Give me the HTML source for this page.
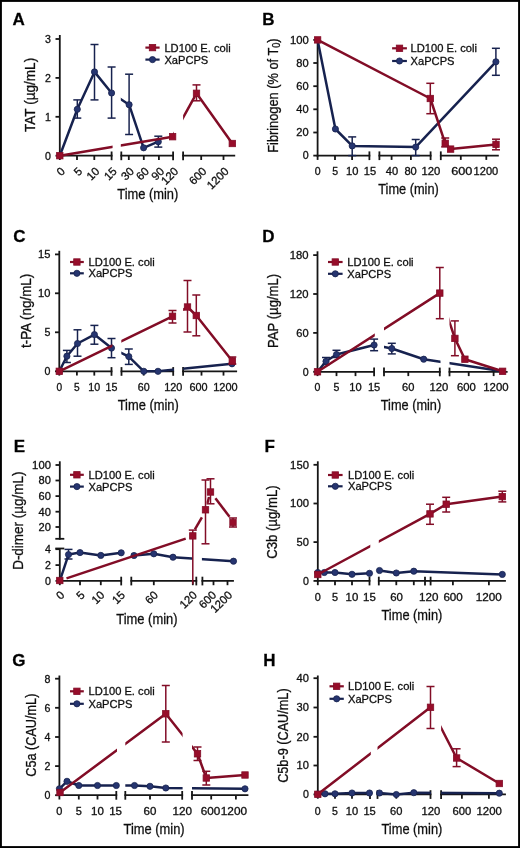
<!DOCTYPE html><html><head><meta charset="utf-8"><style>html,body{margin:0;padding:0;background:#fff;}svg text{font-family:"Liberation Sans", sans-serif;stroke:#111;stroke-width:0.3px;}</style></head><body><svg width="520" height="848" viewBox="0 0 520 848" style="display:block"><defs><clipPath id="c1"><rect x="0" y="0" width="112.6" height="848"/><rect x="120.8" y="0" width="53.2" height="848"/><rect x="183.1" y="0" width="116.9" height="848"/></clipPath><clipPath id="c2"><rect x="0" y="0" width="112.4" height="848"/><rect x="121.3" y="0" width="52.7" height="848"/><rect x="183.1" y="0" width="116.9" height="848"/></clipPath><clipPath id="c3"><rect x="0" y="0" width="374.8" height="848"/><rect x="384" y="0" width="56.5" height="848"/><rect x="449.5" y="0" width="150.5" height="848"/></clipPath><clipPath id="c4"><rect x="0" y="0" width="121.6" height="848"/><rect x="131.0" y="0" width="61.69999999999999" height="848"/><rect x="201.9" y="0" width="98.1" height="848"/></clipPath><clipPath id="c5"><rect x="0" y="0" width="370.3" height="848"/><rect x="378.8" y="0" width="221.2" height="848"/></clipPath><clipPath id="c6"><rect x="0" y="0" width="117" height="848"/><rect x="125.3" y="0" width="57.3" height="848"/><rect x="192" y="0" width="108" height="848"/></clipPath><clipPath id="c7"><rect x="0" y="0" width="370.8" height="848"/><rect x="377.5" y="0" width="53.5" height="848"/><rect x="441.1" y="0" width="158.89999999999998" height="848"/></clipPath><filter id="soft" x="0" y="0" width="1" height="1"><feGaussianBlur stdDeviation="0.35"/></filter></defs><g filter="url(#soft)"><rect x="0" y="0" width="520" height="848" fill="#fff"/><text x="12.6" y="25" font-size="17" text-anchor="start" font-weight="bold" fill="#000">A</text><line x1="59.8" y1="35" x2="59.8" y2="156.6" stroke="#151515" stroke-width="1.8" stroke-linecap="butt"/><line x1="55.5" y1="155.7" x2="59.8" y2="155.7" stroke="#151515" stroke-width="1.8" stroke-linecap="butt"/><text x="50.9" y="159.5" font-size="10.6" text-anchor="end" font-weight="normal" fill="#111" textLength="5.92" lengthAdjust="spacingAndGlyphs">0</text><line x1="55.5" y1="116.8" x2="59.8" y2="116.8" stroke="#151515" stroke-width="1.8" stroke-linecap="butt"/><text x="50.9" y="120.6" font-size="10.6" text-anchor="end" font-weight="normal" fill="#111" textLength="5.92" lengthAdjust="spacingAndGlyphs">1</text><line x1="55.5" y1="77.9" x2="59.8" y2="77.9" stroke="#151515" stroke-width="1.8" stroke-linecap="butt"/><text x="50.9" y="81.7" font-size="10.6" text-anchor="end" font-weight="normal" fill="#111" textLength="5.92" lengthAdjust="spacingAndGlyphs">2</text><line x1="55.5" y1="39.0" x2="59.8" y2="39.0" stroke="#151515" stroke-width="1.8" stroke-linecap="butt"/><text x="50.9" y="42.8" font-size="10.6" text-anchor="end" font-weight="normal" fill="#111" textLength="5.92" lengthAdjust="spacingAndGlyphs">3</text><line x1="58.9" y1="155.7" x2="112.5" y2="155.7" stroke="#151515" stroke-width="1.8" stroke-linecap="butt"/><line x1="111.6" y1="151.5" x2="111.6" y2="160.2" stroke="#151515" stroke-width="1.8" stroke-linecap="butt"/><line x1="120.39999999999999" y1="155.7" x2="174.0" y2="155.7" stroke="#151515" stroke-width="1.8" stroke-linecap="butt"/><line x1="121.3" y1="151.5" x2="121.3" y2="160.2" stroke="#151515" stroke-width="1.8" stroke-linecap="butt"/><line x1="173.1" y1="151.5" x2="173.1" y2="160.2" stroke="#151515" stroke-width="1.8" stroke-linecap="butt"/><line x1="182.2" y1="155.7" x2="235.20000000000002" y2="155.7" stroke="#151515" stroke-width="1.8" stroke-linecap="butt"/><line x1="183.1" y1="151.5" x2="183.1" y2="160.2" stroke="#151515" stroke-width="1.8" stroke-linecap="butt"/><line x1="77.0" y1="155.7" x2="77.0" y2="160.0" stroke="#151515" stroke-width="1.8" stroke-linecap="butt"/><line x1="94.3" y1="155.7" x2="94.3" y2="160.0" stroke="#151515" stroke-width="1.8" stroke-linecap="butt"/><line x1="128.8" y1="155.7" x2="128.8" y2="160.0" stroke="#151515" stroke-width="1.8" stroke-linecap="butt"/><line x1="143.8" y1="155.7" x2="143.8" y2="160.0" stroke="#151515" stroke-width="1.8" stroke-linecap="butt"/><line x1="158.9" y1="155.7" x2="158.9" y2="160.0" stroke="#151515" stroke-width="1.8" stroke-linecap="butt"/><line x1="201.2" y1="155.7" x2="201.2" y2="160.0" stroke="#151515" stroke-width="1.8" stroke-linecap="butt"/><line x1="223.5" y1="155.7" x2="223.5" y2="160.0" stroke="#151515" stroke-width="1.8" stroke-linecap="butt"/><line x1="59.8" y1="155.7" x2="59.8" y2="160.0" stroke="#151515" stroke-width="1.8" stroke-linecap="butt"/><text x="65.8" y="172.0" font-size="11.4" text-anchor="end" font-weight="normal" fill="#111" transform="rotate(-45 65.8 172.0)">0</text><text x="83.0" y="172.0" font-size="11.4" text-anchor="end" font-weight="normal" fill="#111" transform="rotate(-45 83.0 172.0)">5</text><text x="100.3" y="172.0" font-size="11.4" text-anchor="end" font-weight="normal" fill="#111" transform="rotate(-45 100.3 172.0)">10</text><text x="117.6" y="172.0" font-size="11.4" text-anchor="end" font-weight="normal" fill="#111" transform="rotate(-45 117.6 172.0)">15</text><text x="134.8" y="172.0" font-size="11.4" text-anchor="end" font-weight="normal" fill="#111" transform="rotate(-45 134.8 172.0)">30</text><text x="149.8" y="172.0" font-size="11.4" text-anchor="end" font-weight="normal" fill="#111" transform="rotate(-45 149.8 172.0)">60</text><text x="164.9" y="172.0" font-size="11.4" text-anchor="end" font-weight="normal" fill="#111" transform="rotate(-45 164.9 172.0)">90</text><text x="179.1" y="172.0" font-size="11.4" text-anchor="end" font-weight="normal" fill="#111" transform="rotate(-45 179.1 172.0)">120</text><text x="207.2" y="172.0" font-size="11.4" text-anchor="end" font-weight="normal" fill="#111" transform="rotate(-45 207.2 172.0)">600</text><text x="229.5" y="172.0" font-size="11.4" text-anchor="end" font-weight="normal" fill="#111" transform="rotate(-45 229.5 172.0)">1200</text><text x="35.2" y="94.9" font-size="14.5" text-anchor="middle" font-weight="normal" fill="#111" textLength="74.1" lengthAdjust="spacingAndGlyphs" transform="rotate(-90 35.2 94.9)">TAT (µg/mL)</text><text x="117.3" y="199.4" font-size="14.2" text-anchor="start" font-weight="normal" fill="#111" textLength="61.0" lengthAdjust="spacingAndGlyphs">Time (min)</text><line x1="145.4" y1="47.6" x2="159.6" y2="47.6" stroke="#820d27" stroke-width="2.2" stroke-linecap="butt"/><text x="164.4" y="51.6" font-size="11.3" text-anchor="start" font-weight="normal" fill="#111" textLength="66.3" lengthAdjust="spacingAndGlyphs">LD100 E. coli</text><line x1="145.4" y1="59.6" x2="159.6" y2="59.6" stroke="#19234f" stroke-width="2.2" stroke-linecap="butt"/><text x="164.4" y="63.6" font-size="11.3" text-anchor="start" font-weight="normal" fill="#111" textLength="43.9" lengthAdjust="spacingAndGlyphs">XaPCPS</text><text x="262.3" y="25" font-size="17" text-anchor="start" font-weight="bold" fill="#000">B</text><line x1="317.6" y1="39.9" x2="317.6" y2="156.5" stroke="#151515" stroke-width="1.8" stroke-linecap="butt"/><line x1="313.3" y1="155.6" x2="317.6" y2="155.6" stroke="#151515" stroke-width="1.8" stroke-linecap="butt"/><text x="308.70000000000005" y="159.4" font-size="10.6" text-anchor="end" font-weight="normal" fill="#111" textLength="5.92" lengthAdjust="spacingAndGlyphs">0</text><line x1="313.3" y1="132.5" x2="317.6" y2="132.5" stroke="#151515" stroke-width="1.8" stroke-linecap="butt"/><text x="308.70000000000005" y="136.3" font-size="10.6" text-anchor="end" font-weight="normal" fill="#111" textLength="12.35" lengthAdjust="spacingAndGlyphs">20</text><line x1="313.3" y1="109.3" x2="317.6" y2="109.3" stroke="#151515" stroke-width="1.8" stroke-linecap="butt"/><text x="308.70000000000005" y="113.1" font-size="10.6" text-anchor="end" font-weight="normal" fill="#111" textLength="12.35" lengthAdjust="spacingAndGlyphs">40</text><line x1="313.3" y1="86.2" x2="317.6" y2="86.2" stroke="#151515" stroke-width="1.8" stroke-linecap="butt"/><text x="308.70000000000005" y="90.0" font-size="10.6" text-anchor="end" font-weight="normal" fill="#111" textLength="12.35" lengthAdjust="spacingAndGlyphs">60</text><line x1="313.3" y1="63.0" x2="317.6" y2="63.0" stroke="#151515" stroke-width="1.8" stroke-linecap="butt"/><text x="308.70000000000005" y="66.8" font-size="10.6" text-anchor="end" font-weight="normal" fill="#111" textLength="12.35" lengthAdjust="spacingAndGlyphs">80</text><line x1="313.3" y1="39.9" x2="317.6" y2="39.9" stroke="#151515" stroke-width="1.8" stroke-linecap="butt"/><text x="308.70000000000005" y="43.699999999999996" font-size="10.6" text-anchor="end" font-weight="normal" fill="#111" textLength="18.77" lengthAdjust="spacingAndGlyphs">100</text><line x1="316.70000000000005" y1="155.6" x2="370.29999999999995" y2="155.6" stroke="#151515" stroke-width="1.8" stroke-linecap="butt"/><line x1="369.4" y1="151.4" x2="369.4" y2="160.1" stroke="#151515" stroke-width="1.8" stroke-linecap="butt"/><line x1="378.5" y1="155.6" x2="431.5" y2="155.6" stroke="#151515" stroke-width="1.8" stroke-linecap="butt"/><line x1="379.4" y1="151.4" x2="379.4" y2="160.1" stroke="#151515" stroke-width="1.8" stroke-linecap="butt"/><line x1="430.6" y1="151.4" x2="430.6" y2="160.1" stroke="#151515" stroke-width="1.8" stroke-linecap="butt"/><line x1="439.90000000000003" y1="155.6" x2="498.79999999999995" y2="155.6" stroke="#151515" stroke-width="1.8" stroke-linecap="butt"/><line x1="440.8" y1="151.4" x2="440.8" y2="160.1" stroke="#151515" stroke-width="1.8" stroke-linecap="butt"/><line x1="317.6" y1="155.6" x2="317.6" y2="159.9" stroke="#151515" stroke-width="1.8" stroke-linecap="butt"/><line x1="335.0" y1="155.6" x2="335.0" y2="159.9" stroke="#151515" stroke-width="1.8" stroke-linecap="butt"/><line x1="352.1" y1="155.6" x2="352.1" y2="159.9" stroke="#151515" stroke-width="1.8" stroke-linecap="butt"/><line x1="391.6" y1="155.6" x2="391.6" y2="159.9" stroke="#151515" stroke-width="1.8" stroke-linecap="butt"/><line x1="410.9" y1="155.6" x2="410.9" y2="159.9" stroke="#151515" stroke-width="1.8" stroke-linecap="butt"/><line x1="460.8" y1="155.6" x2="460.8" y2="159.9" stroke="#151515" stroke-width="1.8" stroke-linecap="butt"/><line x1="486.3" y1="155.6" x2="486.3" y2="159.9" stroke="#151515" stroke-width="1.8" stroke-linecap="butt"/><text x="317.7" y="174.6" font-size="10.6" text-anchor="middle" font-weight="normal" fill="#111" textLength="5.88" lengthAdjust="spacingAndGlyphs">0</text><text x="335.25" y="174.6" font-size="10.6" text-anchor="middle" font-weight="normal" fill="#111" textLength="5.88" lengthAdjust="spacingAndGlyphs">5</text><text x="352.2" y="174.6" font-size="10.6" text-anchor="middle" font-weight="normal" fill="#111" textLength="12.37" lengthAdjust="spacingAndGlyphs">10</text><text x="369.9" y="174.6" font-size="10.6" text-anchor="middle" font-weight="normal" fill="#111" textLength="12.37" lengthAdjust="spacingAndGlyphs">15</text><text x="391.9" y="174.6" font-size="10.6" text-anchor="middle" font-weight="normal" fill="#111" textLength="12.37" lengthAdjust="spacingAndGlyphs">40</text><text x="410.6" y="174.6" font-size="10.6" text-anchor="middle" font-weight="normal" fill="#111" textLength="12.37" lengthAdjust="spacingAndGlyphs">80</text><text x="431" y="174.6" font-size="10.6" text-anchor="middle" font-weight="normal" fill="#111" textLength="18.85" lengthAdjust="spacingAndGlyphs">120</text><text x="461.8" y="174.6" font-size="10.6" text-anchor="middle" font-weight="normal" fill="#111" textLength="21.2" lengthAdjust="spacingAndGlyphs">600</text><text x="485.9" y="174.6" font-size="10.6" text-anchor="middle" font-weight="normal" fill="#111" textLength="24.6" lengthAdjust="spacingAndGlyphs">1200</text><text x="277.9" y="95.55" font-size="14.5" text-anchor="middle" font-weight="normal" fill="#111" textLength="114.4" lengthAdjust="spacingAndGlyphs" transform="rotate(-90 277.9 95.55)">Fibrinogen (% of T<tspan font-size="10.5" dy="2.5">0</tspan><tspan dy="-2.5">)</tspan></text><text x="378.3" y="194.2" font-size="14.2" text-anchor="start" font-weight="normal" fill="#111" textLength="60.5" lengthAdjust="spacingAndGlyphs">Time (min)</text><line x1="392.1" y1="48.3" x2="406.90000000000003" y2="48.3" stroke="#820d27" stroke-width="2.2" stroke-linecap="butt"/><text x="410.6" y="52.3" font-size="11.3" text-anchor="start" font-weight="normal" fill="#111" textLength="66.3" lengthAdjust="spacingAndGlyphs">LD100 E. coli</text><line x1="392.1" y1="61" x2="406.90000000000003" y2="61" stroke="#19234f" stroke-width="2.2" stroke-linecap="butt"/><text x="410.6" y="65" font-size="11.3" text-anchor="start" font-weight="normal" fill="#111" textLength="43.9" lengthAdjust="spacingAndGlyphs">XaPCPS</text><text x="13.2" y="241.8" font-size="17" text-anchor="start" font-weight="bold" fill="#000">C</text><line x1="59.3" y1="250.8" x2="59.3" y2="372.2" stroke="#151515" stroke-width="1.8" stroke-linecap="butt"/><line x1="55.0" y1="371.3" x2="59.3" y2="371.3" stroke="#151515" stroke-width="1.8" stroke-linecap="butt"/><text x="50.4" y="375.1" font-size="10.6" text-anchor="end" font-weight="normal" fill="#111" textLength="5.92" lengthAdjust="spacingAndGlyphs">0</text><line x1="55.0" y1="332.3" x2="59.3" y2="332.3" stroke="#151515" stroke-width="1.8" stroke-linecap="butt"/><text x="50.4" y="336.1" font-size="10.6" text-anchor="end" font-weight="normal" fill="#111" textLength="5.92" lengthAdjust="spacingAndGlyphs">5</text><line x1="55.0" y1="293.3" x2="59.3" y2="293.3" stroke="#151515" stroke-width="1.8" stroke-linecap="butt"/><text x="50.4" y="297.1" font-size="10.6" text-anchor="end" font-weight="normal" fill="#111" textLength="12.35" lengthAdjust="spacingAndGlyphs">10</text><line x1="55.0" y1="254.4" x2="59.3" y2="254.4" stroke="#151515" stroke-width="1.8" stroke-linecap="butt"/><text x="50.4" y="258.2" font-size="10.6" text-anchor="end" font-weight="normal" fill="#111" textLength="12.35" lengthAdjust="spacingAndGlyphs">15</text><line x1="58.4" y1="371.3" x2="112.4" y2="371.3" stroke="#151515" stroke-width="1.8" stroke-linecap="butt"/><line x1="111.5" y1="367.1" x2="111.5" y2="375.8" stroke="#151515" stroke-width="1.8" stroke-linecap="butt"/><line x1="120.6" y1="371.3" x2="174.1" y2="371.3" stroke="#151515" stroke-width="1.8" stroke-linecap="butt"/><line x1="121.5" y1="367.1" x2="121.5" y2="375.8" stroke="#151515" stroke-width="1.8" stroke-linecap="butt"/><line x1="173.2" y1="367.1" x2="173.2" y2="375.8" stroke="#151515" stroke-width="1.8" stroke-linecap="butt"/><line x1="182.2" y1="371.3" x2="237.1" y2="371.3" stroke="#151515" stroke-width="1.8" stroke-linecap="butt"/><line x1="183.1" y1="367.1" x2="183.1" y2="375.8" stroke="#151515" stroke-width="1.8" stroke-linecap="butt"/><line x1="59.3" y1="371.3" x2="59.3" y2="375.6" stroke="#151515" stroke-width="1.8" stroke-linecap="butt"/><line x1="76.9" y1="371.3" x2="76.9" y2="375.6" stroke="#151515" stroke-width="1.8" stroke-linecap="butt"/><line x1="94.3" y1="371.3" x2="94.3" y2="375.6" stroke="#151515" stroke-width="1.8" stroke-linecap="butt"/><line x1="143.7" y1="371.3" x2="143.7" y2="375.6" stroke="#151515" stroke-width="1.8" stroke-linecap="butt"/><line x1="201.5" y1="371.3" x2="201.5" y2="375.6" stroke="#151515" stroke-width="1.8" stroke-linecap="butt"/><line x1="223.5" y1="371.3" x2="223.5" y2="375.6" stroke="#151515" stroke-width="1.8" stroke-linecap="butt"/><text x="59.3" y="391.1" font-size="10.6" text-anchor="middle" font-weight="normal" fill="#111" textLength="5.65" lengthAdjust="spacingAndGlyphs">0</text><text x="76.9" y="391.1" font-size="10.6" text-anchor="middle" font-weight="normal" fill="#111" textLength="5.65" lengthAdjust="spacingAndGlyphs">5</text><text x="94.3" y="391.1" font-size="10.6" text-anchor="middle" font-weight="normal" fill="#111" textLength="11.89" lengthAdjust="spacingAndGlyphs">10</text><text x="111.5" y="391.1" font-size="10.6" text-anchor="middle" font-weight="normal" fill="#111" textLength="11.89" lengthAdjust="spacingAndGlyphs">15</text><text x="143.7" y="391.1" font-size="10.6" text-anchor="middle" font-weight="normal" fill="#111" textLength="11.89" lengthAdjust="spacingAndGlyphs">60</text><text x="173.3" y="391.1" font-size="10.6" text-anchor="middle" font-weight="normal" fill="#111" textLength="18.14" lengthAdjust="spacingAndGlyphs">120</text><text x="198.5" y="391.1" font-size="10.6" text-anchor="middle" font-weight="normal" fill="#111" textLength="18.14" lengthAdjust="spacingAndGlyphs">600</text><text x="225.4" y="391.1" font-size="10.6" text-anchor="middle" font-weight="normal" fill="#111" textLength="24.39" lengthAdjust="spacingAndGlyphs">1200</text><text x="30.7" y="310.9" font-size="14.5" text-anchor="middle" font-weight="normal" fill="#111" textLength="74.3" lengthAdjust="spacingAndGlyphs" transform="rotate(-90 30.7 310.9)">t-PA (ng/mL)</text><text x="117.7" y="409.8" font-size="14.2" text-anchor="start" font-weight="normal" fill="#111" textLength="61.1" lengthAdjust="spacingAndGlyphs">Time (min)</text><line x1="70" y1="262" x2="83.8" y2="262" stroke="#820d27" stroke-width="2.2" stroke-linecap="butt"/><text x="88.5" y="266" font-size="11.3" text-anchor="start" font-weight="normal" fill="#111" textLength="66.3" lengthAdjust="spacingAndGlyphs">LD100 E. coli</text><line x1="70" y1="273.3" x2="83.8" y2="273.3" stroke="#19234f" stroke-width="2.2" stroke-linecap="butt"/><text x="88.5" y="277.3" font-size="11.3" text-anchor="start" font-weight="normal" fill="#111" textLength="43.9" lengthAdjust="spacingAndGlyphs">XaPCPS</text><text x="262.2" y="241.5" font-size="17" text-anchor="start" font-weight="bold" fill="#000">D</text><line x1="317.5" y1="251.3" x2="317.5" y2="372.7" stroke="#151515" stroke-width="1.8" stroke-linecap="butt"/><line x1="313.2" y1="371.8" x2="317.5" y2="371.8" stroke="#151515" stroke-width="1.8" stroke-linecap="butt"/><text x="308.6" y="375.6" font-size="10.6" text-anchor="end" font-weight="normal" fill="#111" textLength="5.92" lengthAdjust="spacingAndGlyphs">0</text><line x1="313.2" y1="332.9" x2="317.5" y2="332.9" stroke="#151515" stroke-width="1.8" stroke-linecap="butt"/><text x="308.6" y="336.7" font-size="10.6" text-anchor="end" font-weight="normal" fill="#111" textLength="12.35" lengthAdjust="spacingAndGlyphs">60</text><line x1="313.2" y1="294" x2="317.5" y2="294" stroke="#151515" stroke-width="1.8" stroke-linecap="butt"/><text x="308.6" y="297.8" font-size="10.6" text-anchor="end" font-weight="normal" fill="#111" textLength="18.77" lengthAdjust="spacingAndGlyphs">120</text><line x1="313.2" y1="255.1" x2="317.5" y2="255.1" stroke="#151515" stroke-width="1.8" stroke-linecap="butt"/><text x="308.6" y="258.9" font-size="10.6" text-anchor="end" font-weight="normal" fill="#111" textLength="18.77" lengthAdjust="spacingAndGlyphs">180</text><line x1="316.6" y1="371.8" x2="375.0" y2="371.8" stroke="#151515" stroke-width="1.8" stroke-linecap="butt"/><line x1="374.1" y1="367.6" x2="374.1" y2="376.3" stroke="#151515" stroke-width="1.8" stroke-linecap="butt"/><line x1="383.1" y1="371.8" x2="440.7" y2="371.8" stroke="#151515" stroke-width="1.8" stroke-linecap="butt"/><line x1="384" y1="367.6" x2="384" y2="376.3" stroke="#151515" stroke-width="1.8" stroke-linecap="butt"/><line x1="439.8" y1="367.6" x2="439.8" y2="376.3" stroke="#151515" stroke-width="1.8" stroke-linecap="butt"/><line x1="448.6" y1="371.8" x2="507.59999999999997" y2="371.8" stroke="#151515" stroke-width="1.8" stroke-linecap="butt"/><line x1="449.5" y1="367.6" x2="449.5" y2="376.3" stroke="#151515" stroke-width="1.8" stroke-linecap="butt"/><line x1="317.5" y1="371.8" x2="317.5" y2="376.1" stroke="#151515" stroke-width="1.8" stroke-linecap="butt"/><line x1="336.5" y1="371.8" x2="336.5" y2="376.1" stroke="#151515" stroke-width="1.8" stroke-linecap="butt"/><line x1="355.5" y1="371.8" x2="355.5" y2="376.1" stroke="#151515" stroke-width="1.8" stroke-linecap="butt"/><line x1="408.3" y1="371.8" x2="408.3" y2="376.1" stroke="#151515" stroke-width="1.8" stroke-linecap="butt"/><line x1="468.7" y1="371.8" x2="468.7" y2="376.1" stroke="#151515" stroke-width="1.8" stroke-linecap="butt"/><line x1="493.6" y1="371.8" x2="493.6" y2="376.1" stroke="#151515" stroke-width="1.8" stroke-linecap="butt"/><text x="317.5" y="391.3" font-size="10.6" text-anchor="middle" font-weight="normal" fill="#111" textLength="5.88" lengthAdjust="spacingAndGlyphs">0</text><text x="336.5" y="391.3" font-size="10.6" text-anchor="middle" font-weight="normal" fill="#111" textLength="5.88" lengthAdjust="spacingAndGlyphs">5</text><text x="355.5" y="391.3" font-size="10.6" text-anchor="middle" font-weight="normal" fill="#111" textLength="12.37" lengthAdjust="spacingAndGlyphs">10</text><text x="374.1" y="391.3" font-size="10.6" text-anchor="middle" font-weight="normal" fill="#111" textLength="12.37" lengthAdjust="spacingAndGlyphs">15</text><text x="408.3" y="391.3" font-size="10.6" text-anchor="middle" font-weight="normal" fill="#111" textLength="12.37" lengthAdjust="spacingAndGlyphs">60</text><text x="438.8" y="391.3" font-size="10.6" text-anchor="middle" font-weight="normal" fill="#111" textLength="18.85" lengthAdjust="spacingAndGlyphs">120</text><text x="466.3" y="391.3" font-size="10.6" text-anchor="middle" font-weight="normal" fill="#111" textLength="18.85" lengthAdjust="spacingAndGlyphs">600</text><text x="495.9" y="391.3" font-size="10.6" text-anchor="middle" font-weight="normal" fill="#111" textLength="25.33" lengthAdjust="spacingAndGlyphs">1200</text><text x="278.5" y="310.9" font-size="14.5" text-anchor="middle" font-weight="normal" fill="#111" textLength="74.3" lengthAdjust="spacingAndGlyphs" transform="rotate(-90 278.5 310.9)">PAP (µg/mL)</text><text x="380.8" y="410.2" font-size="14.2" text-anchor="start" font-weight="normal" fill="#111" textLength="60.4" lengthAdjust="spacingAndGlyphs">Time (min)</text><line x1="328" y1="262" x2="342.6" y2="262" stroke="#820d27" stroke-width="2.2" stroke-linecap="butt"/><text x="347.3" y="266" font-size="11.3" text-anchor="start" font-weight="normal" fill="#111" textLength="66.3" lengthAdjust="spacingAndGlyphs">LD100 E. coli</text><line x1="328" y1="273.8" x2="342.6" y2="273.8" stroke="#19234f" stroke-width="2.2" stroke-linecap="butt"/><text x="347.3" y="277.8" font-size="11.3" text-anchor="start" font-weight="normal" fill="#111" textLength="43.9" lengthAdjust="spacingAndGlyphs">XaPCPS</text><text x="13.8" y="451.5" font-size="17" text-anchor="start" font-weight="bold" fill="#000">E</text><line x1="59.8" y1="461.3" x2="59.8" y2="539.6999999999999" stroke="#151515" stroke-width="1.8" stroke-linecap="butt"/><line x1="55.3" y1="538.8" x2="64.3" y2="538.8" stroke="#151515" stroke-width="1.8" stroke-linecap="butt"/><line x1="59.8" y1="548.5" x2="59.8" y2="581.8" stroke="#151515" stroke-width="1.8" stroke-linecap="butt"/><line x1="55.3" y1="548.5" x2="64.3" y2="548.5" stroke="#151515" stroke-width="1.8" stroke-linecap="butt"/><line x1="55.5" y1="465" x2="59.8" y2="465" stroke="#151515" stroke-width="1.8" stroke-linecap="butt"/><text x="50.9" y="468.8" font-size="10.6" text-anchor="end" font-weight="normal" fill="#111" textLength="18.77" lengthAdjust="spacingAndGlyphs">100</text><line x1="55.5" y1="480.5" x2="59.8" y2="480.5" stroke="#151515" stroke-width="1.8" stroke-linecap="butt"/><text x="50.9" y="484.3" font-size="10.6" text-anchor="end" font-weight="normal" fill="#111" textLength="12.35" lengthAdjust="spacingAndGlyphs">80</text><line x1="55.5" y1="496.1" x2="59.8" y2="496.1" stroke="#151515" stroke-width="1.8" stroke-linecap="butt"/><text x="50.9" y="499.90000000000003" font-size="10.6" text-anchor="end" font-weight="normal" fill="#111" textLength="12.35" lengthAdjust="spacingAndGlyphs">60</text><line x1="55.5" y1="511.7" x2="59.8" y2="511.7" stroke="#151515" stroke-width="1.8" stroke-linecap="butt"/><text x="50.9" y="515.5" font-size="10.6" text-anchor="end" font-weight="normal" fill="#111" textLength="12.35" lengthAdjust="spacingAndGlyphs">40</text><line x1="55.5" y1="527.0" x2="59.8" y2="527.0" stroke="#151515" stroke-width="1.8" stroke-linecap="butt"/><text x="50.9" y="530.8" font-size="10.6" text-anchor="end" font-weight="normal" fill="#111" textLength="12.35" lengthAdjust="spacingAndGlyphs">20</text><line x1="55.5" y1="549.2" x2="59.8" y2="549.2" stroke="#151515" stroke-width="1.8" stroke-linecap="butt"/><text x="50.9" y="553.0" font-size="10.6" text-anchor="end" font-weight="normal" fill="#111" textLength="5.92" lengthAdjust="spacingAndGlyphs">4</text><line x1="55.5" y1="565.1" x2="59.8" y2="565.1" stroke="#151515" stroke-width="1.8" stroke-linecap="butt"/><text x="50.9" y="568.9" font-size="10.6" text-anchor="end" font-weight="normal" fill="#111" textLength="5.92" lengthAdjust="spacingAndGlyphs">2</text><line x1="55.5" y1="580.9" x2="59.8" y2="580.9" stroke="#151515" stroke-width="1.8" stroke-linecap="butt"/><text x="50.9" y="584.6999999999999" font-size="10.6" text-anchor="end" font-weight="normal" fill="#111" textLength="5.92" lengthAdjust="spacingAndGlyphs">0</text><line x1="58.9" y1="580.9" x2="122.10000000000001" y2="580.9" stroke="#151515" stroke-width="1.8" stroke-linecap="butt"/><line x1="121.2" y1="576.6999999999999" x2="121.2" y2="585.4" stroke="#151515" stroke-width="1.8" stroke-linecap="butt"/><line x1="130.4" y1="580.9" x2="197.20000000000002" y2="580.9" stroke="#151515" stroke-width="1.8" stroke-linecap="butt"/><line x1="131.3" y1="576.6999999999999" x2="131.3" y2="585.4" stroke="#151515" stroke-width="1.8" stroke-linecap="butt"/><line x1="196.3" y1="576.6999999999999" x2="196.3" y2="585.4" stroke="#151515" stroke-width="1.8" stroke-linecap="butt"/><line x1="201.5" y1="580.9" x2="233.9" y2="580.9" stroke="#151515" stroke-width="1.8" stroke-linecap="butt"/><line x1="202.4" y1="576.6999999999999" x2="202.4" y2="585.4" stroke="#151515" stroke-width="1.8" stroke-linecap="butt"/><line x1="59.8" y1="580.9" x2="59.8" y2="585.1999999999999" stroke="#151515" stroke-width="1.8" stroke-linecap="butt"/><line x1="80" y1="580.9" x2="80" y2="585.1999999999999" stroke="#151515" stroke-width="1.8" stroke-linecap="butt"/><line x1="100.8" y1="580.9" x2="100.8" y2="585.1999999999999" stroke="#151515" stroke-width="1.8" stroke-linecap="butt"/><line x1="153.8" y1="580.9" x2="153.8" y2="585.1999999999999" stroke="#151515" stroke-width="1.8" stroke-linecap="butt"/><line x1="192.8" y1="580.9" x2="192.8" y2="585.1999999999999" stroke="#151515" stroke-width="1.8" stroke-linecap="butt"/><line x1="213.5" y1="580.9" x2="213.5" y2="585.1999999999999" stroke="#151515" stroke-width="1.8" stroke-linecap="butt"/><line x1="227.5" y1="580.9" x2="227.5" y2="585.1999999999999" stroke="#151515" stroke-width="1.8" stroke-linecap="butt"/><text x="65.3" y="595.6999999999999" font-size="11.4" text-anchor="end" font-weight="normal" fill="#111" transform="rotate(-45 65.3 595.6999999999999)">0</text><text x="85.5" y="595.6999999999999" font-size="11.4" text-anchor="end" font-weight="normal" fill="#111" transform="rotate(-45 85.5 595.6999999999999)">5</text><text x="105.3" y="595.6999999999999" font-size="11.4" text-anchor="end" font-weight="normal" fill="#111" transform="rotate(-45 105.3 595.6999999999999)">10</text><text x="125.7" y="595.6999999999999" font-size="11.4" text-anchor="end" font-weight="normal" fill="#111" transform="rotate(-45 125.7 595.6999999999999)">15</text><text x="158.8" y="595.6999999999999" font-size="11.4" text-anchor="end" font-weight="normal" fill="#111" transform="rotate(-45 158.8 595.6999999999999)">60</text><text x="197.8" y="595.6999999999999" font-size="11.4" text-anchor="end" font-weight="normal" fill="#111" transform="rotate(-45 197.8 595.6999999999999)">120</text><text x="217.0" y="595.6999999999999" font-size="11.4" text-anchor="end" font-weight="normal" fill="#111" transform="rotate(-45 217.0 595.6999999999999)">600</text><text x="233.0" y="595.6999999999999" font-size="11.4" text-anchor="end" font-weight="normal" fill="#111" transform="rotate(-45 233.0 595.6999999999999)">1200</text><text x="22.7" y="520.7" font-size="14.5" text-anchor="middle" font-weight="normal" fill="#111" textLength="98.3" lengthAdjust="spacingAndGlyphs" transform="rotate(-90 22.7 520.7)">D-dimer (µg/mL)</text><text x="116.3" y="623.8" font-size="14.2" text-anchor="start" font-weight="normal" fill="#111" textLength="61.2" lengthAdjust="spacingAndGlyphs">Time (min)</text><line x1="70" y1="474.8" x2="83.8" y2="474.8" stroke="#820d27" stroke-width="2.2" stroke-linecap="butt"/><text x="88.5" y="478.8" font-size="11.3" text-anchor="start" font-weight="normal" fill="#111" textLength="66.3" lengthAdjust="spacingAndGlyphs">LD100 E. coli</text><line x1="70" y1="486.6" x2="83.8" y2="486.6" stroke="#19234f" stroke-width="2.2" stroke-linecap="butt"/><text x="88.5" y="490.6" font-size="11.3" text-anchor="start" font-weight="normal" fill="#111" textLength="43.9" lengthAdjust="spacingAndGlyphs">XaPCPS</text><text x="264.5" y="451.5" font-size="17" text-anchor="start" font-weight="bold" fill="#000">F</text><line x1="317.8" y1="461.3" x2="317.8" y2="581.8" stroke="#151515" stroke-width="1.8" stroke-linecap="butt"/><line x1="313.5" y1="580.9" x2="317.8" y2="580.9" stroke="#151515" stroke-width="1.8" stroke-linecap="butt"/><text x="308.90000000000003" y="584.6999999999999" font-size="10.6" text-anchor="end" font-weight="normal" fill="#111" textLength="5.92" lengthAdjust="spacingAndGlyphs">0</text><line x1="313.5" y1="542.1" x2="317.8" y2="542.1" stroke="#151515" stroke-width="1.8" stroke-linecap="butt"/><text x="308.90000000000003" y="545.9" font-size="10.6" text-anchor="end" font-weight="normal" fill="#111" textLength="12.35" lengthAdjust="spacingAndGlyphs">50</text><line x1="313.5" y1="503.5" x2="317.8" y2="503.5" stroke="#151515" stroke-width="1.8" stroke-linecap="butt"/><text x="308.90000000000003" y="507.3" font-size="10.6" text-anchor="end" font-weight="normal" fill="#111" textLength="18.77" lengthAdjust="spacingAndGlyphs">100</text><line x1="313.5" y1="464.8" x2="317.8" y2="464.8" stroke="#151515" stroke-width="1.8" stroke-linecap="butt"/><text x="308.90000000000003" y="468.6" font-size="10.6" text-anchor="end" font-weight="normal" fill="#111" textLength="18.77" lengthAdjust="spacingAndGlyphs">150</text><line x1="316.90000000000003" y1="580.9" x2="370.4" y2="580.9" stroke="#151515" stroke-width="1.8" stroke-linecap="butt"/><line x1="369.5" y1="576.6999999999999" x2="369.5" y2="585.4" stroke="#151515" stroke-width="1.8" stroke-linecap="butt"/><line x1="377.90000000000003" y1="580.9" x2="425.9" y2="580.9" stroke="#151515" stroke-width="1.8" stroke-linecap="butt"/><line x1="378.8" y1="576.6999999999999" x2="378.8" y2="585.4" stroke="#151515" stroke-width="1.8" stroke-linecap="butt"/><line x1="425" y1="576.6999999999999" x2="425" y2="585.4" stroke="#151515" stroke-width="1.8" stroke-linecap="butt"/><line x1="429.70000000000005" y1="580.9" x2="505.9" y2="580.9" stroke="#151515" stroke-width="1.8" stroke-linecap="butt"/><line x1="430.6" y1="576.6999999999999" x2="430.6" y2="585.4" stroke="#151515" stroke-width="1.8" stroke-linecap="butt"/><line x1="425" y1="580.9" x2="430.6" y2="580.9" stroke="#151515" stroke-width="1.8" stroke-linecap="butt"/><line x1="317.8" y1="580.9" x2="317.8" y2="585.1999999999999" stroke="#151515" stroke-width="1.8" stroke-linecap="butt"/><line x1="335" y1="580.9" x2="335" y2="585.1999999999999" stroke="#151515" stroke-width="1.8" stroke-linecap="butt"/><line x1="352" y1="580.9" x2="352" y2="585.1999999999999" stroke="#151515" stroke-width="1.8" stroke-linecap="butt"/><line x1="396.3" y1="580.9" x2="396.3" y2="585.1999999999999" stroke="#151515" stroke-width="1.8" stroke-linecap="butt"/><line x1="413.8" y1="580.9" x2="413.8" y2="585.1999999999999" stroke="#151515" stroke-width="1.8" stroke-linecap="butt"/><line x1="452.9" y1="580.9" x2="452.9" y2="585.1999999999999" stroke="#151515" stroke-width="1.8" stroke-linecap="butt"/><line x1="488.9" y1="580.9" x2="488.9" y2="585.1999999999999" stroke="#151515" stroke-width="1.8" stroke-linecap="butt"/><text x="317.8" y="600.9" font-size="10.6" text-anchor="middle" font-weight="normal" fill="#111" textLength="6.06" lengthAdjust="spacingAndGlyphs">0</text><text x="335" y="600.9" font-size="10.6" text-anchor="middle" font-weight="normal" fill="#111" textLength="6.06" lengthAdjust="spacingAndGlyphs">5</text><text x="352" y="600.9" font-size="10.6" text-anchor="middle" font-weight="normal" fill="#111" textLength="12.72" lengthAdjust="spacingAndGlyphs">10</text><text x="369.5" y="600.9" font-size="10.6" text-anchor="middle" font-weight="normal" fill="#111" textLength="12.72" lengthAdjust="spacingAndGlyphs">15</text><text x="396.6" y="600.9" font-size="10.6" text-anchor="middle" font-weight="normal" fill="#111" textLength="12.72" lengthAdjust="spacingAndGlyphs">60</text><text x="428.7" y="600.9" font-size="10.6" text-anchor="middle" font-weight="normal" fill="#111" textLength="19.38" lengthAdjust="spacingAndGlyphs">120</text><text x="453.1" y="600.9" font-size="10.6" text-anchor="middle" font-weight="normal" fill="#111" textLength="19.38" lengthAdjust="spacingAndGlyphs">600</text><text x="488.8" y="600.9" font-size="10.6" text-anchor="middle" font-weight="normal" fill="#111" textLength="26.04" lengthAdjust="spacingAndGlyphs">1200</text><text x="277.3" y="522.1" font-size="14.5" text-anchor="middle" font-weight="normal" fill="#111" textLength="73.5" lengthAdjust="spacingAndGlyphs" transform="rotate(-90 277.3 522.1)">C3b (µg/mL)</text><text x="381.5" y="620.2" font-size="14.2" text-anchor="start" font-weight="normal" fill="#111" textLength="60.8" lengthAdjust="spacingAndGlyphs">Time (min)</text><line x1="328" y1="475" x2="342.6" y2="475" stroke="#820d27" stroke-width="2.2" stroke-linecap="butt"/><text x="348.0" y="479" font-size="11.3" text-anchor="start" font-weight="normal" fill="#111" textLength="66.3" lengthAdjust="spacingAndGlyphs">LD100 E. coli</text><line x1="328" y1="486.3" x2="342.6" y2="486.3" stroke="#19234f" stroke-width="2.2" stroke-linecap="butt"/><text x="348.0" y="490.3" font-size="11.3" text-anchor="start" font-weight="normal" fill="#111" textLength="43.9" lengthAdjust="spacingAndGlyphs">XaPCPS</text><text x="12.2" y="665.8" font-size="17" text-anchor="start" font-weight="bold" fill="#000">G</text><line x1="59.4" y1="675.5" x2="59.4" y2="796.1" stroke="#151515" stroke-width="1.8" stroke-linecap="butt"/><line x1="55.1" y1="795.2" x2="59.4" y2="795.2" stroke="#151515" stroke-width="1.8" stroke-linecap="butt"/><text x="50.5" y="799.0" font-size="10.6" text-anchor="end" font-weight="normal" fill="#111" textLength="5.92" lengthAdjust="spacingAndGlyphs">0</text><line x1="55.1" y1="766.1" x2="59.4" y2="766.1" stroke="#151515" stroke-width="1.8" stroke-linecap="butt"/><text x="50.5" y="769.9" font-size="10.6" text-anchor="end" font-weight="normal" fill="#111" textLength="5.92" lengthAdjust="spacingAndGlyphs">2</text><line x1="55.1" y1="737" x2="59.4" y2="737" stroke="#151515" stroke-width="1.8" stroke-linecap="butt"/><text x="50.5" y="740.8" font-size="10.6" text-anchor="end" font-weight="normal" fill="#111" textLength="5.92" lengthAdjust="spacingAndGlyphs">4</text><line x1="55.1" y1="707.8" x2="59.4" y2="707.8" stroke="#151515" stroke-width="1.8" stroke-linecap="butt"/><text x="50.5" y="711.5999999999999" font-size="10.6" text-anchor="end" font-weight="normal" fill="#111" textLength="5.92" lengthAdjust="spacingAndGlyphs">6</text><line x1="55.1" y1="678.7" x2="59.4" y2="678.7" stroke="#151515" stroke-width="1.8" stroke-linecap="butt"/><text x="50.5" y="682.5" font-size="10.6" text-anchor="end" font-weight="normal" fill="#111" textLength="5.92" lengthAdjust="spacingAndGlyphs">8</text><line x1="58.5" y1="795.2" x2="117.2" y2="795.2" stroke="#151515" stroke-width="1.8" stroke-linecap="butt"/><line x1="116.3" y1="791.0" x2="116.3" y2="799.7" stroke="#151515" stroke-width="1.8" stroke-linecap="butt"/><line x1="124.39999999999999" y1="795.2" x2="183.1" y2="795.2" stroke="#151515" stroke-width="1.8" stroke-linecap="butt"/><line x1="125.3" y1="791.0" x2="125.3" y2="799.7" stroke="#151515" stroke-width="1.8" stroke-linecap="butt"/><line x1="182.2" y1="791.0" x2="182.2" y2="799.7" stroke="#151515" stroke-width="1.8" stroke-linecap="butt"/><line x1="191.1" y1="795.2" x2="248.4" y2="795.2" stroke="#151515" stroke-width="1.8" stroke-linecap="butt"/><line x1="192" y1="791.0" x2="192" y2="799.7" stroke="#151515" stroke-width="1.8" stroke-linecap="butt"/><line x1="59.4" y1="795.2" x2="59.4" y2="799.5" stroke="#151515" stroke-width="1.8" stroke-linecap="butt"/><line x1="78.8" y1="795.2" x2="78.8" y2="799.5" stroke="#151515" stroke-width="1.8" stroke-linecap="butt"/><line x1="97.5" y1="795.2" x2="97.5" y2="799.5" stroke="#151515" stroke-width="1.8" stroke-linecap="butt"/><line x1="150" y1="795.2" x2="150" y2="799.5" stroke="#151515" stroke-width="1.8" stroke-linecap="butt"/><line x1="211.2" y1="795.2" x2="211.2" y2="799.5" stroke="#151515" stroke-width="1.8" stroke-linecap="butt"/><line x1="235.9" y1="795.2" x2="235.9" y2="799.5" stroke="#151515" stroke-width="1.8" stroke-linecap="butt"/><text x="59.4" y="815.0" font-size="10.6" text-anchor="middle" font-weight="normal" fill="#111" textLength="6.12" lengthAdjust="spacingAndGlyphs">0</text><text x="78.8" y="815.0" font-size="10.6" text-anchor="middle" font-weight="normal" fill="#111" textLength="6.12" lengthAdjust="spacingAndGlyphs">5</text><text x="97.5" y="815.0" font-size="10.6" text-anchor="middle" font-weight="normal" fill="#111" textLength="12.84" lengthAdjust="spacingAndGlyphs">10</text><text x="115.6" y="815.0" font-size="10.6" text-anchor="middle" font-weight="normal" fill="#111" textLength="12.84" lengthAdjust="spacingAndGlyphs">15</text><text x="150" y="815.0" font-size="10.6" text-anchor="middle" font-weight="normal" fill="#111" textLength="12.84" lengthAdjust="spacingAndGlyphs">60</text><text x="182.2" y="815.0" font-size="10.6" text-anchor="middle" font-weight="normal" fill="#111" textLength="19.56" lengthAdjust="spacingAndGlyphs">120</text><text x="210.6" y="815.0" font-size="10.6" text-anchor="middle" font-weight="normal" fill="#111" textLength="19.56" lengthAdjust="spacingAndGlyphs">600</text><text x="233.9" y="815.0" font-size="10.6" text-anchor="middle" font-weight="normal" fill="#111" textLength="26.27" lengthAdjust="spacingAndGlyphs">1200</text><text x="36.5" y="735.2" font-size="14.5" text-anchor="middle" font-weight="normal" fill="#111" textLength="83.1" lengthAdjust="spacingAndGlyphs" transform="rotate(-90 36.5 735.2)">C5a (CAU/mL)</text><text x="123.5" y="834.2" font-size="14.2" text-anchor="start" font-weight="normal" fill="#111" textLength="61.1" lengthAdjust="spacingAndGlyphs">Time (min)</text><line x1="70" y1="691.3" x2="83.8" y2="691.3" stroke="#820d27" stroke-width="2.2" stroke-linecap="butt"/><text x="88.5" y="695.3" font-size="11.3" text-anchor="start" font-weight="normal" fill="#111" textLength="66.3" lengthAdjust="spacingAndGlyphs">LD100 E. coli</text><line x1="70" y1="703.8" x2="83.8" y2="703.8" stroke="#19234f" stroke-width="2.2" stroke-linecap="butt"/><text x="88.5" y="707.8" font-size="11.3" text-anchor="start" font-weight="normal" fill="#111" textLength="43.9" lengthAdjust="spacingAndGlyphs">XaPCPS</text><text x="263.2" y="665.8" font-size="17" text-anchor="start" font-weight="bold" fill="#000">H</text><line x1="317.8" y1="675.5" x2="317.8" y2="795.3" stroke="#151515" stroke-width="1.8" stroke-linecap="butt"/><line x1="313.5" y1="794.4" x2="317.8" y2="794.4" stroke="#151515" stroke-width="1.8" stroke-linecap="butt"/><text x="308.90000000000003" y="798.1999999999999" font-size="10.6" text-anchor="end" font-weight="normal" fill="#111" textLength="5.92" lengthAdjust="spacingAndGlyphs">0</text><line x1="313.5" y1="765.5" x2="317.8" y2="765.5" stroke="#151515" stroke-width="1.8" stroke-linecap="butt"/><text x="308.90000000000003" y="769.3" font-size="10.6" text-anchor="end" font-weight="normal" fill="#111" textLength="12.35" lengthAdjust="spacingAndGlyphs">10</text><line x1="313.5" y1="736.8" x2="317.8" y2="736.8" stroke="#151515" stroke-width="1.8" stroke-linecap="butt"/><text x="308.90000000000003" y="740.5999999999999" font-size="10.6" text-anchor="end" font-weight="normal" fill="#111" textLength="12.35" lengthAdjust="spacingAndGlyphs">20</text><line x1="313.5" y1="707.5" x2="317.8" y2="707.5" stroke="#151515" stroke-width="1.8" stroke-linecap="butt"/><text x="308.90000000000003" y="711.3" font-size="10.6" text-anchor="end" font-weight="normal" fill="#111" textLength="12.35" lengthAdjust="spacingAndGlyphs">30</text><line x1="313.5" y1="678.2" x2="317.8" y2="678.2" stroke="#151515" stroke-width="1.8" stroke-linecap="butt"/><text x="308.90000000000003" y="682.0" font-size="10.6" text-anchor="end" font-weight="normal" fill="#111" textLength="12.35" lengthAdjust="spacingAndGlyphs">40</text><line x1="316.90000000000003" y1="794.4" x2="370.9" y2="794.4" stroke="#151515" stroke-width="1.8" stroke-linecap="butt"/><line x1="370" y1="790.1999999999999" x2="370" y2="798.9" stroke="#151515" stroke-width="1.8" stroke-linecap="butt"/><line x1="376.6" y1="794.4" x2="431.4" y2="794.4" stroke="#151515" stroke-width="1.8" stroke-linecap="butt"/><line x1="377.5" y1="790.1999999999999" x2="377.5" y2="798.9" stroke="#151515" stroke-width="1.8" stroke-linecap="butt"/><line x1="430.5" y1="790.1999999999999" x2="430.5" y2="798.9" stroke="#151515" stroke-width="1.8" stroke-linecap="butt"/><line x1="440.20000000000005" y1="794.4" x2="505.9" y2="794.4" stroke="#151515" stroke-width="1.8" stroke-linecap="butt"/><line x1="441.1" y1="790.1999999999999" x2="441.1" y2="798.9" stroke="#151515" stroke-width="1.8" stroke-linecap="butt"/><line x1="317.8" y1="794.4" x2="317.8" y2="798.6999999999999" stroke="#151515" stroke-width="1.8" stroke-linecap="butt"/><line x1="335" y1="794.4" x2="335" y2="798.6999999999999" stroke="#151515" stroke-width="1.8" stroke-linecap="butt"/><line x1="352" y1="794.4" x2="352" y2="798.6999999999999" stroke="#151515" stroke-width="1.8" stroke-linecap="butt"/><line x1="396.3" y1="794.4" x2="396.3" y2="798.6999999999999" stroke="#151515" stroke-width="1.8" stroke-linecap="butt"/><line x1="461.9" y1="794.4" x2="461.9" y2="798.6999999999999" stroke="#151515" stroke-width="1.8" stroke-linecap="butt"/><line x1="488.9" y1="794.4" x2="488.9" y2="798.6999999999999" stroke="#151515" stroke-width="1.8" stroke-linecap="butt"/><text x="317.8" y="814.6999999999999" font-size="10.6" text-anchor="middle" font-weight="normal" fill="#111" textLength="5.88" lengthAdjust="spacingAndGlyphs">0</text><text x="335" y="814.6999999999999" font-size="10.6" text-anchor="middle" font-weight="normal" fill="#111" textLength="5.88" lengthAdjust="spacingAndGlyphs">5</text><text x="352" y="814.6999999999999" font-size="10.6" text-anchor="middle" font-weight="normal" fill="#111" textLength="12.37" lengthAdjust="spacingAndGlyphs">10</text><text x="369.6" y="814.6999999999999" font-size="10.6" text-anchor="middle" font-weight="normal" fill="#111" textLength="12.37" lengthAdjust="spacingAndGlyphs">15</text><text x="396.3" y="814.6999999999999" font-size="10.6" text-anchor="middle" font-weight="normal" fill="#111" textLength="12.37" lengthAdjust="spacingAndGlyphs">60</text><text x="430.8" y="814.6999999999999" font-size="10.6" text-anchor="middle" font-weight="normal" fill="#111" textLength="18.85" lengthAdjust="spacingAndGlyphs">120</text><text x="462" y="814.6999999999999" font-size="10.6" text-anchor="middle" font-weight="normal" fill="#111" textLength="18.85" lengthAdjust="spacingAndGlyphs">600</text><text x="489.2" y="814.6999999999999" font-size="10.6" text-anchor="middle" font-weight="normal" fill="#111" textLength="25.33" lengthAdjust="spacingAndGlyphs">1200</text><text x="287.6" y="735.6" font-size="14.5" text-anchor="middle" font-weight="normal" fill="#111" textLength="94.5" lengthAdjust="spacingAndGlyphs" transform="rotate(-90 287.6 735.6)">C5b-9 (CAU/mL)</text><text x="381.5" y="833.7" font-size="14.2" text-anchor="start" font-weight="normal" fill="#111" textLength="60.8" lengthAdjust="spacingAndGlyphs">Time (min)</text><line x1="329.5" y1="686.3" x2="343.8" y2="686.3" stroke="#820d27" stroke-width="2.2" stroke-linecap="butt"/><text x="348.0" y="690.3" font-size="11.3" text-anchor="start" font-weight="normal" fill="#111" textLength="66.3" lengthAdjust="spacingAndGlyphs">LD100 E. coli</text><line x1="329.5" y1="698.8" x2="343.8" y2="698.8" stroke="#19234f" stroke-width="2.2" stroke-linecap="butt"/><text x="348.0" y="702.8" font-size="11.3" text-anchor="start" font-weight="normal" fill="#111" textLength="43.9" lengthAdjust="spacingAndGlyphs">XaPCPS</text><polyline points="59.8,155.7 77.3,109.3 94.5,71.9 111.6,93 129.1,104.7 143.6,147.8 158.3,141.7" fill="none" stroke="#19234f" stroke-width="2.5" stroke-linejoin="round" clip-path="url(#c1)"/><line x1="77.3" y1="99.9" x2="77.3" y2="118.1" stroke="#19234f" stroke-width="1.5" stroke-linecap="butt"/><line x1="73.3" y1="99.9" x2="81.3" y2="99.9" stroke="#19234f" stroke-width="1.5" stroke-linecap="butt"/><line x1="73.3" y1="118.1" x2="81.3" y2="118.1" stroke="#19234f" stroke-width="1.5" stroke-linecap="butt"/><line x1="94.5" y1="44.5" x2="94.5" y2="99.9" stroke="#19234f" stroke-width="1.5" stroke-linecap="butt"/><line x1="90.5" y1="44.5" x2="98.5" y2="44.5" stroke="#19234f" stroke-width="1.5" stroke-linecap="butt"/><line x1="90.5" y1="99.9" x2="98.5" y2="99.9" stroke="#19234f" stroke-width="1.5" stroke-linecap="butt"/><line x1="111.6" y1="67" x2="111.6" y2="118.1" stroke="#19234f" stroke-width="1.5" stroke-linecap="butt"/><line x1="107.6" y1="67" x2="115.6" y2="67" stroke="#19234f" stroke-width="1.5" stroke-linecap="butt"/><line x1="107.6" y1="118.1" x2="115.6" y2="118.1" stroke="#19234f" stroke-width="1.5" stroke-linecap="butt"/><line x1="129.1" y1="74.2" x2="129.1" y2="134.5" stroke="#19234f" stroke-width="1.5" stroke-linecap="butt"/><line x1="125.1" y1="74.2" x2="133.1" y2="74.2" stroke="#19234f" stroke-width="1.5" stroke-linecap="butt"/><line x1="125.1" y1="134.5" x2="133.1" y2="134.5" stroke="#19234f" stroke-width="1.5" stroke-linecap="butt"/><line x1="158.3" y1="136.2" x2="158.3" y2="147.1" stroke="#19234f" stroke-width="1.5" stroke-linecap="butt"/><line x1="154.3" y1="136.2" x2="162.3" y2="136.2" stroke="#19234f" stroke-width="1.5" stroke-linecap="butt"/><line x1="154.3" y1="147.1" x2="162.3" y2="147.1" stroke="#19234f" stroke-width="1.5" stroke-linecap="butt"/><circle cx="77.3" cy="109.3" r="3.1" fill="#25346f" stroke="#19234f" stroke-width="0.8"/><circle cx="94.5" cy="71.9" r="3.1" fill="#25346f" stroke="#19234f" stroke-width="0.8"/><circle cx="111.6" cy="93" r="3.1" fill="#25346f" stroke="#19234f" stroke-width="0.8"/><circle cx="129.1" cy="104.7" r="3.1" fill="#25346f" stroke="#19234f" stroke-width="0.8"/><circle cx="143.6" cy="147.8" r="3.1" fill="#25346f" stroke="#19234f" stroke-width="0.8"/><circle cx="158.3" cy="141.7" r="3.1" fill="#25346f" stroke="#19234f" stroke-width="0.8"/><circle cx="152.5" cy="59.6" r="3.1" fill="#25346f" stroke="#19234f" stroke-width="0.8"/><polyline points="317.6,39.9 335.4,129 352.2,145.9 415.7,147.1 495.9,61.8" fill="none" stroke="#19234f" stroke-width="2.5" stroke-linejoin="round"/><line x1="352.2" y1="136.9" x2="352.2" y2="155.6" stroke="#19234f" stroke-width="1.5" stroke-linecap="butt"/><line x1="348.2" y1="136.9" x2="356.2" y2="136.9" stroke="#19234f" stroke-width="1.5" stroke-linecap="butt"/><line x1="348.2" y1="155.6" x2="356.2" y2="155.6" stroke="#19234f" stroke-width="1.5" stroke-linecap="butt"/><line x1="415.7" y1="139.5" x2="415.7" y2="155.6" stroke="#19234f" stroke-width="1.5" stroke-linecap="butt"/><line x1="411.7" y1="139.5" x2="419.7" y2="139.5" stroke="#19234f" stroke-width="1.5" stroke-linecap="butt"/><line x1="411.7" y1="155.6" x2="419.7" y2="155.6" stroke="#19234f" stroke-width="1.5" stroke-linecap="butt"/><line x1="495.9" y1="48.3" x2="495.9" y2="75.3" stroke="#19234f" stroke-width="1.5" stroke-linecap="butt"/><line x1="491.9" y1="48.3" x2="499.9" y2="48.3" stroke="#19234f" stroke-width="1.5" stroke-linecap="butt"/><line x1="491.9" y1="75.3" x2="499.9" y2="75.3" stroke="#19234f" stroke-width="1.5" stroke-linecap="butt"/><circle cx="335.4" cy="129" r="3.1" fill="#25346f" stroke="#19234f" stroke-width="0.8"/><circle cx="352.2" cy="145.9" r="3.1" fill="#25346f" stroke="#19234f" stroke-width="0.8"/><circle cx="415.7" cy="147.1" r="3.1" fill="#25346f" stroke="#19234f" stroke-width="0.8"/><circle cx="495.9" cy="61.8" r="3.1" fill="#25346f" stroke="#19234f" stroke-width="0.8"/><circle cx="399.5" cy="61" r="3.1" fill="#25346f" stroke="#19234f" stroke-width="0.8"/><polyline points="59.3,371.3 66.9,356.2 77.5,343.5 94.4,334.6 111.5,348.1 128.8,356.6 143.8,371.3 158,371.3 232,363.8" fill="none" stroke="#19234f" stroke-width="2.5" stroke-linejoin="round" clip-path="url(#c2)"/><line x1="66.9" y1="350.4" x2="66.9" y2="362.5" stroke="#19234f" stroke-width="1.5" stroke-linecap="butt"/><line x1="62.900000000000006" y1="350.4" x2="70.9" y2="350.4" stroke="#19234f" stroke-width="1.5" stroke-linecap="butt"/><line x1="62.900000000000006" y1="362.5" x2="70.9" y2="362.5" stroke="#19234f" stroke-width="1.5" stroke-linecap="butt"/><line x1="77.5" y1="329.8" x2="77.5" y2="356.2" stroke="#19234f" stroke-width="1.5" stroke-linecap="butt"/><line x1="73.5" y1="329.8" x2="81.5" y2="329.8" stroke="#19234f" stroke-width="1.5" stroke-linecap="butt"/><line x1="73.5" y1="356.2" x2="81.5" y2="356.2" stroke="#19234f" stroke-width="1.5" stroke-linecap="butt"/><line x1="94.4" y1="325.4" x2="94.4" y2="344.2" stroke="#19234f" stroke-width="1.5" stroke-linecap="butt"/><line x1="90.4" y1="325.4" x2="98.4" y2="325.4" stroke="#19234f" stroke-width="1.5" stroke-linecap="butt"/><line x1="90.4" y1="344.2" x2="98.4" y2="344.2" stroke="#19234f" stroke-width="1.5" stroke-linecap="butt"/><line x1="111.5" y1="338.5" x2="111.5" y2="357.7" stroke="#19234f" stroke-width="1.5" stroke-linecap="butt"/><line x1="107.5" y1="338.5" x2="115.5" y2="338.5" stroke="#19234f" stroke-width="1.5" stroke-linecap="butt"/><line x1="107.5" y1="357.7" x2="115.5" y2="357.7" stroke="#19234f" stroke-width="1.5" stroke-linecap="butt"/><line x1="128.8" y1="349" x2="128.8" y2="364.4" stroke="#19234f" stroke-width="1.5" stroke-linecap="butt"/><line x1="124.80000000000001" y1="349" x2="132.8" y2="349" stroke="#19234f" stroke-width="1.5" stroke-linecap="butt"/><line x1="124.80000000000001" y1="364.4" x2="132.8" y2="364.4" stroke="#19234f" stroke-width="1.5" stroke-linecap="butt"/><circle cx="66.9" cy="356.2" r="3.1" fill="#25346f" stroke="#19234f" stroke-width="0.8"/><circle cx="77.5" cy="343.5" r="3.1" fill="#25346f" stroke="#19234f" stroke-width="0.8"/><circle cx="94.4" cy="334.6" r="3.1" fill="#25346f" stroke="#19234f" stroke-width="0.8"/><circle cx="111.5" cy="348.1" r="3.1" fill="#25346f" stroke="#19234f" stroke-width="0.8"/><circle cx="128.8" cy="356.6" r="3.1" fill="#25346f" stroke="#19234f" stroke-width="0.8"/><circle cx="143.8" cy="371.3" r="3.1" fill="#25346f" stroke="#19234f" stroke-width="0.8"/><circle cx="158" cy="371.3" r="3.1" fill="#25346f" stroke="#19234f" stroke-width="0.8"/><circle cx="232" cy="363.8" r="3.1" fill="#25346f" stroke="#19234f" stroke-width="0.8"/><circle cx="76.9" cy="273.3" r="3.1" fill="#25346f" stroke="#19234f" stroke-width="0.8"/><polyline points="317.5,371.8 326,361.3 336.5,354.5 374.1,345 391.8,348.5 423.7,359.2 502.6,371.3" fill="none" stroke="#19234f" stroke-width="2.5" stroke-linejoin="round" clip-path="url(#c3)"/><line x1="326" y1="357.5" x2="326" y2="364.5" stroke="#19234f" stroke-width="1.5" stroke-linecap="butt"/><line x1="322" y1="357.5" x2="330" y2="357.5" stroke="#19234f" stroke-width="1.5" stroke-linecap="butt"/><line x1="322" y1="364.5" x2="330" y2="364.5" stroke="#19234f" stroke-width="1.5" stroke-linecap="butt"/><line x1="336.5" y1="350.3" x2="336.5" y2="357.5" stroke="#19234f" stroke-width="1.5" stroke-linecap="butt"/><line x1="332.5" y1="350.3" x2="340.5" y2="350.3" stroke="#19234f" stroke-width="1.5" stroke-linecap="butt"/><line x1="332.5" y1="357.5" x2="340.5" y2="357.5" stroke="#19234f" stroke-width="1.5" stroke-linecap="butt"/><line x1="374.1" y1="339.1" x2="374.1" y2="350.7" stroke="#19234f" stroke-width="1.5" stroke-linecap="butt"/><line x1="370.1" y1="339.1" x2="378.1" y2="339.1" stroke="#19234f" stroke-width="1.5" stroke-linecap="butt"/><line x1="370.1" y1="350.7" x2="378.1" y2="350.7" stroke="#19234f" stroke-width="1.5" stroke-linecap="butt"/><line x1="391.8" y1="343.3" x2="391.8" y2="353.9" stroke="#19234f" stroke-width="1.5" stroke-linecap="butt"/><line x1="387.8" y1="343.3" x2="395.8" y2="343.3" stroke="#19234f" stroke-width="1.5" stroke-linecap="butt"/><line x1="387.8" y1="353.9" x2="395.8" y2="353.9" stroke="#19234f" stroke-width="1.5" stroke-linecap="butt"/><circle cx="326" cy="361.3" r="3.1" fill="#25346f" stroke="#19234f" stroke-width="0.8"/><circle cx="336.5" cy="354.5" r="3.1" fill="#25346f" stroke="#19234f" stroke-width="0.8"/><circle cx="374.1" cy="345" r="3.1" fill="#25346f" stroke="#19234f" stroke-width="0.8"/><circle cx="391.8" cy="348.5" r="3.1" fill="#25346f" stroke="#19234f" stroke-width="0.8"/><circle cx="423.7" cy="359.2" r="3.1" fill="#25346f" stroke="#19234f" stroke-width="0.8"/><circle cx="335.3" cy="273.8" r="3.1" fill="#25346f" stroke="#19234f" stroke-width="0.8"/><polyline points="59.8,580.9 68.5,554.6 80,552.6 100.8,555.4 121.2,552.8 134,555.5 153.8,553.8 173,557.2 233.5,561.2" fill="none" stroke="#19234f" stroke-width="2.5" stroke-linejoin="round" clip-path="url(#c4)"/><line x1="68.5" y1="549.4" x2="68.5" y2="559" stroke="#19234f" stroke-width="1.5" stroke-linecap="butt"/><line x1="64.5" y1="549.4" x2="72.5" y2="549.4" stroke="#19234f" stroke-width="1.5" stroke-linecap="butt"/><line x1="64.5" y1="559" x2="72.5" y2="559" stroke="#19234f" stroke-width="1.5" stroke-linecap="butt"/><circle cx="68.5" cy="554.6" r="3.1" fill="#25346f" stroke="#19234f" stroke-width="0.8"/><circle cx="80" cy="552.6" r="3.1" fill="#25346f" stroke="#19234f" stroke-width="0.8"/><circle cx="100.8" cy="555.4" r="3.1" fill="#25346f" stroke="#19234f" stroke-width="0.8"/><circle cx="121.2" cy="552.8" r="3.1" fill="#25346f" stroke="#19234f" stroke-width="0.8"/><circle cx="134" cy="555.5" r="3.1" fill="#25346f" stroke="#19234f" stroke-width="0.8"/><circle cx="153.8" cy="553.8" r="3.1" fill="#25346f" stroke="#19234f" stroke-width="0.8"/><circle cx="173" cy="557.2" r="3.1" fill="#25346f" stroke="#19234f" stroke-width="0.8"/><circle cx="233.5" cy="561.2" r="3.1" fill="#25346f" stroke="#19234f" stroke-width="0.8"/><circle cx="76.9" cy="486.6" r="3.1" fill="#25346f" stroke="#19234f" stroke-width="0.8"/><polyline points="317.8,572.5 324.3,572.5 335,572.5 352,574.3 369.5,573.3 379.5,570.5 396.3,573 413.8,571.2 502.3,574.4" fill="none" stroke="#19234f" stroke-width="2.5" stroke-linejoin="round" clip-path="url(#c5)"/><circle cx="317.8" cy="572.5" r="3.1" fill="#25346f" stroke="#19234f" stroke-width="0.8"/><circle cx="324.3" cy="572.5" r="3.1" fill="#25346f" stroke="#19234f" stroke-width="0.8"/><circle cx="335" cy="572.5" r="3.1" fill="#25346f" stroke="#19234f" stroke-width="0.8"/><circle cx="352" cy="574.3" r="3.1" fill="#25346f" stroke="#19234f" stroke-width="0.8"/><circle cx="369.5" cy="573.3" r="3.1" fill="#25346f" stroke="#19234f" stroke-width="0.8"/><circle cx="379.5" cy="570.5" r="3.1" fill="#25346f" stroke="#19234f" stroke-width="0.8"/><circle cx="396.3" cy="573" r="3.1" fill="#25346f" stroke="#19234f" stroke-width="0.8"/><circle cx="413.8" cy="571.2" r="3.1" fill="#25346f" stroke="#19234f" stroke-width="0.8"/><circle cx="502.3" cy="574.4" r="3.1" fill="#25346f" stroke="#19234f" stroke-width="0.8"/><circle cx="335.3" cy="486.3" r="3.1" fill="#25346f" stroke="#19234f" stroke-width="0.8"/><polyline points="59.4,788.8 67,781.3 78.8,785.5 97.5,785.5 116.3,785.5 134.5,785.5 150,786.3 165.8,788 245,788.8" fill="none" stroke="#19234f" stroke-width="2.5" stroke-linejoin="round" clip-path="url(#c6)"/><circle cx="59.4" cy="788.8" r="3.1" fill="#25346f" stroke="#19234f" stroke-width="0.8"/><circle cx="67" cy="781.3" r="3.1" fill="#25346f" stroke="#19234f" stroke-width="0.8"/><circle cx="78.8" cy="785.5" r="3.1" fill="#25346f" stroke="#19234f" stroke-width="0.8"/><circle cx="97.5" cy="785.5" r="3.1" fill="#25346f" stroke="#19234f" stroke-width="0.8"/><circle cx="116.3" cy="785.5" r="3.1" fill="#25346f" stroke="#19234f" stroke-width="0.8"/><circle cx="134.5" cy="785.5" r="3.1" fill="#25346f" stroke="#19234f" stroke-width="0.8"/><circle cx="150" cy="786.3" r="3.1" fill="#25346f" stroke="#19234f" stroke-width="0.8"/><circle cx="165.8" cy="788" r="3.1" fill="#25346f" stroke="#19234f" stroke-width="0.8"/><circle cx="245" cy="788.8" r="3.1" fill="#25346f" stroke="#19234f" stroke-width="0.8"/><circle cx="76.9" cy="703.8" r="3.1" fill="#25346f" stroke="#19234f" stroke-width="0.8"/><polyline points="317.8,794 325,793.8 335,793.8 352,793 369.5,793 379.5,793 396.3,794.5 413.8,792.7 499.3,793.2" fill="none" stroke="#19234f" stroke-width="2.5" stroke-linejoin="round" clip-path="url(#c7)"/><circle cx="317.8" cy="794" r="3.1" fill="#25346f" stroke="#19234f" stroke-width="0.8"/><circle cx="325" cy="793.8" r="3.1" fill="#25346f" stroke="#19234f" stroke-width="0.8"/><circle cx="335" cy="793.8" r="3.1" fill="#25346f" stroke="#19234f" stroke-width="0.8"/><circle cx="352" cy="793" r="3.1" fill="#25346f" stroke="#19234f" stroke-width="0.8"/><circle cx="369.5" cy="793" r="3.1" fill="#25346f" stroke="#19234f" stroke-width="0.8"/><circle cx="379.5" cy="793" r="3.1" fill="#25346f" stroke="#19234f" stroke-width="0.8"/><circle cx="396.3" cy="794.5" r="3.1" fill="#25346f" stroke="#19234f" stroke-width="0.8"/><circle cx="413.8" cy="792.7" r="3.1" fill="#25346f" stroke="#19234f" stroke-width="0.8"/><circle cx="499.3" cy="793.2" r="3.1" fill="#25346f" stroke="#19234f" stroke-width="0.8"/><circle cx="336.65" cy="698.8" r="3.1" fill="#25346f" stroke="#19234f" stroke-width="0.8"/><polyline points="59.8,155.7 172.6,136.7 196.5,93.3 232.3,143.5" fill="none" stroke="#820d27" stroke-width="2.5" stroke-linejoin="round" clip-path="url(#c1)"/><line x1="196.5" y1="84.9" x2="196.5" y2="100.8" stroke="#820d27" stroke-width="1.5" stroke-linecap="butt"/><line x1="192.5" y1="84.9" x2="200.5" y2="84.9" stroke="#820d27" stroke-width="1.5" stroke-linecap="butt"/><line x1="192.5" y1="100.8" x2="200.5" y2="100.8" stroke="#820d27" stroke-width="1.5" stroke-linecap="butt"/><rect x="56.60" y="152.50" width="6.4" height="6.4" fill="#970e2b" stroke="#820d27" stroke-width="0.8"/><rect x="169.40" y="133.50" width="6.4" height="6.4" fill="#970e2b" stroke="#820d27" stroke-width="0.8"/><rect x="193.30" y="90.10" width="6.4" height="6.4" fill="#970e2b" stroke="#820d27" stroke-width="0.8"/><rect x="229.10" y="140.30" width="6.4" height="6.4" fill="#970e2b" stroke="#820d27" stroke-width="0.8"/><rect x="149.30" y="44.40" width="6.4" height="6.4" fill="#970e2b" stroke="#820d27" stroke-width="0.8"/><polyline points="317.6,39.9 430.3,98.5 445.2,143.3 450.6,149.1 496,144.4" fill="none" stroke="#820d27" stroke-width="2.5" stroke-linejoin="round"/><line x1="430.3" y1="83.3" x2="430.3" y2="113.7" stroke="#820d27" stroke-width="1.5" stroke-linecap="butt"/><line x1="426.3" y1="83.3" x2="434.3" y2="83.3" stroke="#820d27" stroke-width="1.5" stroke-linecap="butt"/><line x1="426.3" y1="113.7" x2="434.3" y2="113.7" stroke="#820d27" stroke-width="1.5" stroke-linecap="butt"/><line x1="445.2" y1="138" x2="445.2" y2="146.9" stroke="#820d27" stroke-width="1.5" stroke-linecap="butt"/><line x1="441.2" y1="138" x2="449.2" y2="138" stroke="#820d27" stroke-width="1.5" stroke-linecap="butt"/><line x1="441.2" y1="146.9" x2="449.2" y2="146.9" stroke="#820d27" stroke-width="1.5" stroke-linecap="butt"/><line x1="496" y1="139.2" x2="496" y2="149.8" stroke="#820d27" stroke-width="1.5" stroke-linecap="butt"/><line x1="492" y1="139.2" x2="500" y2="139.2" stroke="#820d27" stroke-width="1.5" stroke-linecap="butt"/><line x1="492" y1="149.8" x2="500" y2="149.8" stroke="#820d27" stroke-width="1.5" stroke-linecap="butt"/><rect x="314.40" y="36.70" width="6.4" height="6.4" fill="#970e2b" stroke="#820d27" stroke-width="0.8"/><rect x="427.10" y="95.30" width="6.4" height="6.4" fill="#970e2b" stroke="#820d27" stroke-width="0.8"/><rect x="442.00" y="140.10" width="6.4" height="6.4" fill="#970e2b" stroke="#820d27" stroke-width="0.8"/><rect x="447.40" y="145.90" width="6.4" height="6.4" fill="#970e2b" stroke="#820d27" stroke-width="0.8"/><rect x="492.80" y="141.20" width="6.4" height="6.4" fill="#970e2b" stroke="#820d27" stroke-width="0.8"/><rect x="396.30" y="45.10" width="6.4" height="6.4" fill="#970e2b" stroke="#820d27" stroke-width="0.8"/><polyline points="59.3,371.3 172.5,316.3 187.5,307 196.3,315.5 232.3,361" fill="none" stroke="#820d27" stroke-width="2.5" stroke-linejoin="round" clip-path="url(#c2)"/><line x1="172.5" y1="310.5" x2="172.5" y2="323" stroke="#820d27" stroke-width="1.5" stroke-linecap="butt"/><line x1="168.5" y1="310.5" x2="176.5" y2="310.5" stroke="#820d27" stroke-width="1.5" stroke-linecap="butt"/><line x1="168.5" y1="323" x2="176.5" y2="323" stroke="#820d27" stroke-width="1.5" stroke-linecap="butt"/><line x1="187.5" y1="280.5" x2="187.5" y2="332" stroke="#820d27" stroke-width="1.5" stroke-linecap="butt"/><line x1="183.5" y1="280.5" x2="191.5" y2="280.5" stroke="#820d27" stroke-width="1.5" stroke-linecap="butt"/><line x1="183.5" y1="332" x2="191.5" y2="332" stroke="#820d27" stroke-width="1.5" stroke-linecap="butt"/><line x1="196.3" y1="295" x2="196.3" y2="335.8" stroke="#820d27" stroke-width="1.5" stroke-linecap="butt"/><line x1="192.3" y1="295" x2="200.3" y2="295" stroke="#820d27" stroke-width="1.5" stroke-linecap="butt"/><line x1="192.3" y1="335.8" x2="200.3" y2="335.8" stroke="#820d27" stroke-width="1.5" stroke-linecap="butt"/><line x1="232.3" y1="357" x2="232.3" y2="364" stroke="#820d27" stroke-width="1.5" stroke-linecap="butt"/><line x1="228.3" y1="357" x2="236.3" y2="357" stroke="#820d27" stroke-width="1.5" stroke-linecap="butt"/><line x1="228.3" y1="364" x2="236.3" y2="364" stroke="#820d27" stroke-width="1.5" stroke-linecap="butt"/><rect x="56.10" y="368.10" width="6.4" height="6.4" fill="#970e2b" stroke="#820d27" stroke-width="0.8"/><rect x="169.30" y="313.10" width="6.4" height="6.4" fill="#970e2b" stroke="#820d27" stroke-width="0.8"/><rect x="184.30" y="303.80" width="6.4" height="6.4" fill="#970e2b" stroke="#820d27" stroke-width="0.8"/><rect x="193.10" y="312.30" width="6.4" height="6.4" fill="#970e2b" stroke="#820d27" stroke-width="0.8"/><rect x="229.10" y="357.80" width="6.4" height="6.4" fill="#970e2b" stroke="#820d27" stroke-width="0.8"/><rect x="73.70" y="258.80" width="6.4" height="6.4" fill="#970e2b" stroke="#820d27" stroke-width="0.8"/><polyline points="317.5,371.8 439.8,293.1 454.9,338.4 464.9,359.2 502.6,371.3" fill="none" stroke="#820d27" stroke-width="2.5" stroke-linejoin="round" clip-path="url(#c3)"/><line x1="439.8" y1="267.5" x2="439.8" y2="318.7" stroke="#820d27" stroke-width="1.5" stroke-linecap="butt"/><line x1="435.8" y1="267.5" x2="443.8" y2="267.5" stroke="#820d27" stroke-width="1.5" stroke-linecap="butt"/><line x1="435.8" y1="318.7" x2="443.8" y2="318.7" stroke="#820d27" stroke-width="1.5" stroke-linecap="butt"/><line x1="454.9" y1="320.9" x2="454.9" y2="355.7" stroke="#820d27" stroke-width="1.5" stroke-linecap="butt"/><line x1="450.9" y1="320.9" x2="458.9" y2="320.9" stroke="#820d27" stroke-width="1.5" stroke-linecap="butt"/><line x1="450.9" y1="355.7" x2="458.9" y2="355.7" stroke="#820d27" stroke-width="1.5" stroke-linecap="butt"/><rect x="314.30" y="368.60" width="6.4" height="6.4" fill="#970e2b" stroke="#820d27" stroke-width="0.8"/><rect x="436.60" y="289.90" width="6.4" height="6.4" fill="#970e2b" stroke="#820d27" stroke-width="0.8"/><rect x="451.70" y="335.20" width="6.4" height="6.4" fill="#970e2b" stroke="#820d27" stroke-width="0.8"/><rect x="461.70" y="356.00" width="6.4" height="6.4" fill="#970e2b" stroke="#820d27" stroke-width="0.8"/><rect x="499.40" y="368.10" width="6.4" height="6.4" fill="#970e2b" stroke="#820d27" stroke-width="0.8"/><rect x="332.10" y="258.80" width="6.4" height="6.4" fill="#970e2b" stroke="#820d27" stroke-width="0.8"/><polyline points="66.5,578.4 185.7,538.6" fill="none" stroke="#820d27" stroke-width="2.5" stroke-linejoin="round"/><polyline points="194.9,529.4 201.9,517.4" fill="none" stroke="#820d27" stroke-width="2.5" stroke-linejoin="round"/><polyline points="207.5,503 209,497" fill="none" stroke="#820d27" stroke-width="2.5" stroke-linejoin="round"/><polyline points="215.4,498.3 229.5,516.7" fill="none" stroke="#820d27" stroke-width="2.5" stroke-linejoin="round"/><line x1="205.5" y1="480" x2="205.5" y2="543.8" stroke="#820d27" stroke-width="1.5" stroke-linecap="butt"/><line x1="201.5" y1="480" x2="209.5" y2="480" stroke="#820d27" stroke-width="1.5" stroke-linecap="butt"/><line x1="201.5" y1="543.8" x2="209.5" y2="543.8" stroke="#820d27" stroke-width="1.5" stroke-linecap="butt"/><line x1="210.5" y1="478.8" x2="210.5" y2="503.8" stroke="#820d27" stroke-width="1.5" stroke-linecap="butt"/><line x1="206.5" y1="478.8" x2="214.5" y2="478.8" stroke="#820d27" stroke-width="1.5" stroke-linecap="butt"/><line x1="206.5" y1="503.8" x2="214.5" y2="503.8" stroke="#820d27" stroke-width="1.5" stroke-linecap="butt"/><line x1="233" y1="518" x2="233" y2="527" stroke="#820d27" stroke-width="1.5" stroke-linecap="butt"/><line x1="229" y1="518" x2="237" y2="518" stroke="#820d27" stroke-width="1.5" stroke-linecap="butt"/><line x1="229" y1="527" x2="237" y2="527" stroke="#820d27" stroke-width="1.5" stroke-linecap="butt"/><line x1="192.8" y1="530.1" x2="192.8" y2="584.2" stroke="#820d27" stroke-width="1.5" stroke-linecap="butt"/><line x1="188.8" y1="530.1" x2="196.8" y2="530.1" stroke="#820d27" stroke-width="1.5" stroke-linecap="butt"/><rect x="56.60" y="577.30" width="6.4" height="6.4" fill="#970e2b" stroke="#820d27" stroke-width="0.8"/><rect x="189.60" y="532.70" width="6.4" height="6.4" fill="#970e2b" stroke="#820d27" stroke-width="0.8"/><rect x="202.30" y="506.60" width="6.4" height="6.4" fill="#970e2b" stroke="#820d27" stroke-width="0.8"/><rect x="207.30" y="488.80" width="6.4" height="6.4" fill="#970e2b" stroke="#820d27" stroke-width="0.8"/><rect x="229.80" y="519.30" width="6.4" height="6.4" fill="#970e2b" stroke="#820d27" stroke-width="0.8"/><rect x="73.70" y="471.60" width="6.4" height="6.4" fill="#970e2b" stroke="#820d27" stroke-width="0.8"/><polyline points="317.8,574.5 430,513.9 446.2,504.2 502.3,496.6" fill="none" stroke="#820d27" stroke-width="2.5" stroke-linejoin="round" clip-path="url(#c5)"/><line x1="430" y1="504.2" x2="430" y2="524.3" stroke="#820d27" stroke-width="1.5" stroke-linecap="butt"/><line x1="426" y1="504.2" x2="434" y2="504.2" stroke="#820d27" stroke-width="1.5" stroke-linecap="butt"/><line x1="426" y1="524.3" x2="434" y2="524.3" stroke="#820d27" stroke-width="1.5" stroke-linecap="butt"/><line x1="446.2" y1="497.3" x2="446.2" y2="512" stroke="#820d27" stroke-width="1.5" stroke-linecap="butt"/><line x1="442.2" y1="497.3" x2="450.2" y2="497.3" stroke="#820d27" stroke-width="1.5" stroke-linecap="butt"/><line x1="442.2" y1="512" x2="450.2" y2="512" stroke="#820d27" stroke-width="1.5" stroke-linecap="butt"/><line x1="502.3" y1="491.2" x2="502.3" y2="501.9" stroke="#820d27" stroke-width="1.5" stroke-linecap="butt"/><line x1="498.3" y1="491.2" x2="506.3" y2="491.2" stroke="#820d27" stroke-width="1.5" stroke-linecap="butt"/><line x1="498.3" y1="501.9" x2="506.3" y2="501.9" stroke="#820d27" stroke-width="1.5" stroke-linecap="butt"/><rect x="314.60" y="571.30" width="6.4" height="6.4" fill="#970e2b" stroke="#820d27" stroke-width="0.8"/><rect x="426.80" y="510.70" width="6.4" height="6.4" fill="#970e2b" stroke="#820d27" stroke-width="0.8"/><rect x="443.00" y="501.00" width="6.4" height="6.4" fill="#970e2b" stroke="#820d27" stroke-width="0.8"/><rect x="499.10" y="493.40" width="6.4" height="6.4" fill="#970e2b" stroke="#820d27" stroke-width="0.8"/><rect x="332.10" y="471.80" width="6.4" height="6.4" fill="#970e2b" stroke="#820d27" stroke-width="0.8"/><polyline points="60,792.5 165.8,713.8 197.5,753.8 206.3,778 245,775" fill="none" stroke="#820d27" stroke-width="2.5" stroke-linejoin="round" clip-path="url(#c6)"/><line x1="165.8" y1="685.5" x2="165.8" y2="742" stroke="#820d27" stroke-width="1.5" stroke-linecap="butt"/><line x1="161.8" y1="685.5" x2="169.8" y2="685.5" stroke="#820d27" stroke-width="1.5" stroke-linecap="butt"/><line x1="161.8" y1="742" x2="169.8" y2="742" stroke="#820d27" stroke-width="1.5" stroke-linecap="butt"/><line x1="197.5" y1="747" x2="197.5" y2="760.5" stroke="#820d27" stroke-width="1.5" stroke-linecap="butt"/><line x1="193.5" y1="747" x2="201.5" y2="747" stroke="#820d27" stroke-width="1.5" stroke-linecap="butt"/><line x1="193.5" y1="760.5" x2="201.5" y2="760.5" stroke="#820d27" stroke-width="1.5" stroke-linecap="butt"/><line x1="206.3" y1="771.3" x2="206.3" y2="785" stroke="#820d27" stroke-width="1.5" stroke-linecap="butt"/><line x1="202.3" y1="771.3" x2="210.3" y2="771.3" stroke="#820d27" stroke-width="1.5" stroke-linecap="butt"/><line x1="202.3" y1="785" x2="210.3" y2="785" stroke="#820d27" stroke-width="1.5" stroke-linecap="butt"/><rect x="56.80" y="789.30" width="6.4" height="6.4" fill="#970e2b" stroke="#820d27" stroke-width="0.8"/><rect x="162.60" y="710.60" width="6.4" height="6.4" fill="#970e2b" stroke="#820d27" stroke-width="0.8"/><rect x="194.30" y="750.60" width="6.4" height="6.4" fill="#970e2b" stroke="#820d27" stroke-width="0.8"/><rect x="203.10" y="774.80" width="6.4" height="6.4" fill="#970e2b" stroke="#820d27" stroke-width="0.8"/><rect x="241.80" y="771.80" width="6.4" height="6.4" fill="#970e2b" stroke="#820d27" stroke-width="0.8"/><rect x="73.70" y="688.10" width="6.4" height="6.4" fill="#970e2b" stroke="#820d27" stroke-width="0.8"/><polyline points="317.8,794.3 430.5,707.3 456.6,758 499.3,783.5" fill="none" stroke="#820d27" stroke-width="2.5" stroke-linejoin="round" clip-path="url(#c7)"/><line x1="430.5" y1="686.5" x2="430.5" y2="728.5" stroke="#820d27" stroke-width="1.5" stroke-linecap="butt"/><line x1="426.5" y1="686.5" x2="434.5" y2="686.5" stroke="#820d27" stroke-width="1.5" stroke-linecap="butt"/><line x1="426.5" y1="728.5" x2="434.5" y2="728.5" stroke="#820d27" stroke-width="1.5" stroke-linecap="butt"/><line x1="456.6" y1="748.8" x2="456.6" y2="766.6" stroke="#820d27" stroke-width="1.5" stroke-linecap="butt"/><line x1="452.6" y1="748.8" x2="460.6" y2="748.8" stroke="#820d27" stroke-width="1.5" stroke-linecap="butt"/><line x1="452.6" y1="766.6" x2="460.6" y2="766.6" stroke="#820d27" stroke-width="1.5" stroke-linecap="butt"/><rect x="314.60" y="791.10" width="6.4" height="6.4" fill="#970e2b" stroke="#820d27" stroke-width="0.8"/><rect x="427.30" y="704.10" width="6.4" height="6.4" fill="#970e2b" stroke="#820d27" stroke-width="0.8"/><rect x="453.40" y="754.80" width="6.4" height="6.4" fill="#970e2b" stroke="#820d27" stroke-width="0.8"/><rect x="496.10" y="780.30" width="6.4" height="6.4" fill="#970e2b" stroke="#820d27" stroke-width="0.8"/><rect x="333.45" y="683.10" width="6.4" height="6.4" fill="#970e2b" stroke="#820d27" stroke-width="0.8"/></g><rect x="0.95" y="0.95" width="518.1" height="846.1" fill="none" stroke="#000" stroke-width="1.9"/></svg></body></html>
